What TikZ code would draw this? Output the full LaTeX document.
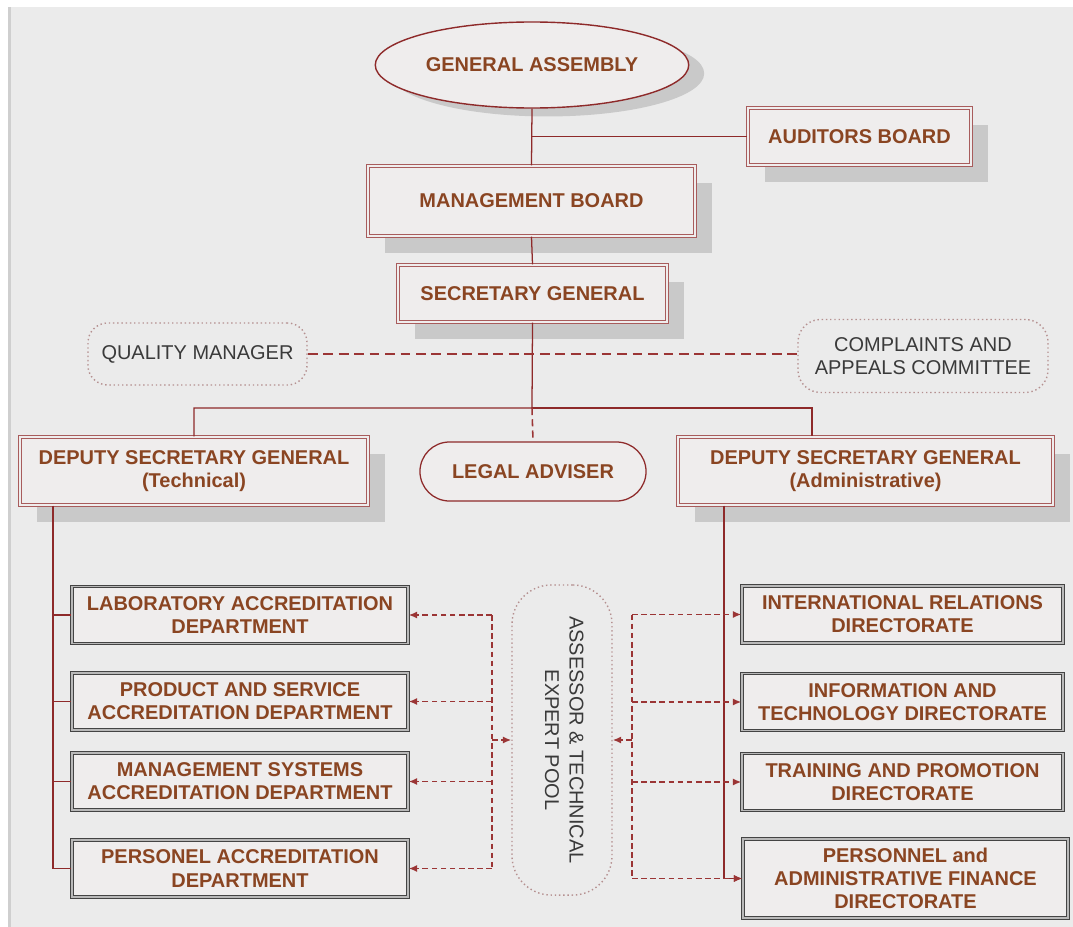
\documentclass[tikz,border=0pt]{standalone}
\usepackage{fontspec}
\setmainfont{Liberation Sans}
\usepackage{graphicx}
\usetikzlibrary{shapes.geometric,shadows,arrows.meta}

\definecolor{bggray}{HTML}{EBEBEB}
\definecolor{edgegray}{HTML}{CFCFCF}
\definecolor{boxrose}{HTML}{A85C5C}
\definecolor{linered}{HTML}{8E2A2A}
\definecolor{boxfill}{HTML}{EFEDED}
\definecolor{txtbrown}{HTML}{8A4522}
\definecolor{txtgray}{HTML}{3A3A3A}
\definecolor{shadowgray}{HTML}{C9C9C9}
\definecolor{dotrose}{HTML}{B59090}
\definecolor{deptline}{HTML}{444444}
\definecolor{dashred}{HTML}{9B3535}

\begin{document}
\begin{tikzpicture}[x=0.025cm, y=-0.025cm,
    orgbox/.style={draw=boxrose, double=boxfill, double distance=1.3pt, line width=1pt,
        fill=boxfill, text=txtbrown, align=center, inner sep=2pt,
        font=\bfseries\fontsize{14.2}{16.4}\selectfont},
    orgshadow/.style={drop shadow={shadow xshift=12pt, shadow yshift=-12pt, fill=shadowgray, opacity=1}},
    gabox/.style={ellipse, draw=linered, line width=1pt, fill=boxfill, text=txtbrown,
        font=\bfseries\fontsize{14.2}{16.4}\selectfont,
        drop shadow={shadow xshift=11pt, shadow yshift=-6pt, fill=shadowgray, opacity=1}},
    legalbox/.style={draw=linered, line width=0.9pt, fill=boxfill, rounded corners=21pt,
        text=txtbrown, font=\bfseries\fontsize{14.2}{16.4}\selectfont},
    deptbox/.style={draw=deptline, double=gray!55, double distance=1pt, line width=0.9pt,
        fill=boxfill, text=txtbrown, align=center, inner sep=2pt, minimum height=1.425cm,
        font=\bfseries\fontsize{14.2}{16.4}\selectfont},
    softbox/.style={draw=dotrose, dotted, line width=1pt, text=txtgray, align=center,
        font=\fontsize{14.2}{16.4}\selectfont},
    orgline/.style={draw=linered, line width=0.9pt},
    dashline/.style={draw=dashred, line width=1.1pt, dash pattern=on 4pt off 2.5pt},
    dasharr/.style={dashline, -{Latex[length=6pt,width=5pt]}}
    ]

    % page
    \useasboundingbox (0,0) rectangle (1073,927);
    \fill[white] (0,0) rectangle (1073,927);
    \fill[bggray] (8,7) rectangle (1073,927);
    \fill[edgegray] (8,7) rectangle (11,927);

    % top of the chart
    \node[gabox, minimum width=7.375cm, minimum height=2.15cm] (ga) at (532,65) {GENERAL ASSEMBLY};
    \node[orgbox, orgshadow, minimum width=5.575cm, minimum height=1.425cm] (ab) at (859.5,136.5) {AUDITORS BOARD};
    \node[orgbox, orgshadow, minimum width=8.175cm, minimum height=1.75cm] (mb) at (531.5,201) {MANAGEMENT BOARD};
    \node[orgbox, orgshadow, minimum width=6.725cm, minimum height=1.425cm] (sg) at (532.5,293.5) {SECRETARY GENERAL};
    \node[softbox, rounded corners=14pt, minimum width=5.475cm, minimum height=1.55cm] (qm) at (197.5,354) {QUALITY MANAGER};
    \node[softbox, rounded corners=16pt, minimum width=6.25cm, minimum height=1.825cm] (cac) at (923,356) {COMPLAINTS AND\\APPEALS COMMITTEE};
    \node[orgbox, orgshadow, minimum width=8.7cm, minimum height=1.7cm] (dsgT) at (194,471) {DEPUTY SECRETARY GENERAL\\(Technical)};
    \node[legalbox, minimum width=5.65cm, minimum height=1.475cm] (la) at (533,471.5) {LEGAL ADVISER};
    \node[orgbox, orgshadow, minimum width=9.375cm, minimum height=1.7cm] (dsgA) at (865.5,471) {DEPUTY SECRETARY GENERAL\\(Administrative)};

    % departments
    \node[deptbox, minimum width=8.4cm] (lab) at (240,615) {LABORATORY ACCREDITATION\\DEPARTMENT};
    \node[deptbox, minimum width=8.4cm] (prod) at (240,701.5) {PRODUCT AND SERVICE\\ACCREDITATION DEPARTMENT};
    \node[deptbox, minimum width=8.4cm] (mgmt) at (240,781.5) {MANAGEMENT SYSTEMS\\ACCREDITATION DEPARTMENT};
    \node[deptbox, minimum width=8.4cm] (pers) at (240,868.5) {PERSONEL ACCREDITATION\\DEPARTMENT};

    % directorates
    \node[deptbox, minimum width=8.025cm] (intl) at (902.5,614.5) {INTERNATIONAL RELATIONS\\DIRECTORATE};
    \node[deptbox, minimum width=8.025cm] (itd) at (902.5,702) {INFORMATION AND\\TECHNOLOGY DIRECTORATE};
    \node[deptbox, minimum width=8.025cm] (train) at (902.5,782) {TRAINING AND PROMOTION\\DIRECTORATE};
    \node[deptbox, minimum width=8.125cm, minimum height=1.975cm] (pfin) at (905.5,878.5) {PERSONNEL and\\ADMINISTRATIVE FINANCE\\DIRECTORATE};

    \node[softbox, rounded corners=28pt, minimum width=2.5cm, minimum height=7.75cm] (pool) at (562,740)
        {\rotatebox{-90}{\begin{tabular}{@{}c@{}}ASSESSOR \& TECHNICAL\\[1pt] EXPERT POOL\end{tabular}}};

    % solid lines
    \coordinate (br) at (532,408);
    \coordinate (rdrop) at (812,408);
    \coordinate (lline) at (53,0);
    \coordinate (rline) at (724,0);
    \draw[orgline] (ga.south) -- (mb.north);
    \draw[orgline] (ga.south |- ab.west) -- (ab.west);
    \draw[orgline] (mb.south) -- (sg.north);
    \draw[orgline] (sg.south) -- (br) -| (dsgT.north);
    \draw[orgline] (br) -- (rdrop) -- (rdrop |- dsgA.north);
    \draw[orgline] (dsgT.south -| lline) |- (pers.west);
    \foreach \d in {lab,prod,mgmt}
        \draw[orgline] (\d.west -| lline) -- (\d.west);
    \draw[orgline, line width=1.3pt, -{Latex[length=6pt,width=5pt]}] (dsgA.south -| rline) |- (pfin.west);

    % dashed lines
    \draw[dashline, dash pattern=on 5pt off 3pt] (br) -- (la.north);
    \draw[dashline, dash pattern=on 7pt off 4pt] (qm.east) -- (qm.east -| cac.west);

    \coordinate (lsp) at (492,0);
    \coordinate (rsp) at (632,0);
    \draw[dashline] (lab.east -| lsp) -- (pers.east -| lsp);
    \foreach \d in {lab,prod,mgmt,pers}
        \draw[dasharr] (\d.east -| lsp) -- (\d.east);
    \draw[dasharr] (pool.west -| lsp) -- (pool.west);
    \draw[dashline] (intl.west -| rsp) -- (pfin.west -| rsp);
    \foreach \d in {intl,itd,train,pfin}
        \draw[dasharr] (\d.west -| rsp) -- (\d.west);
    \draw[dasharr] (pool.east -| rsp) -- (pool.east);

\end{tikzpicture}
\end{document}
